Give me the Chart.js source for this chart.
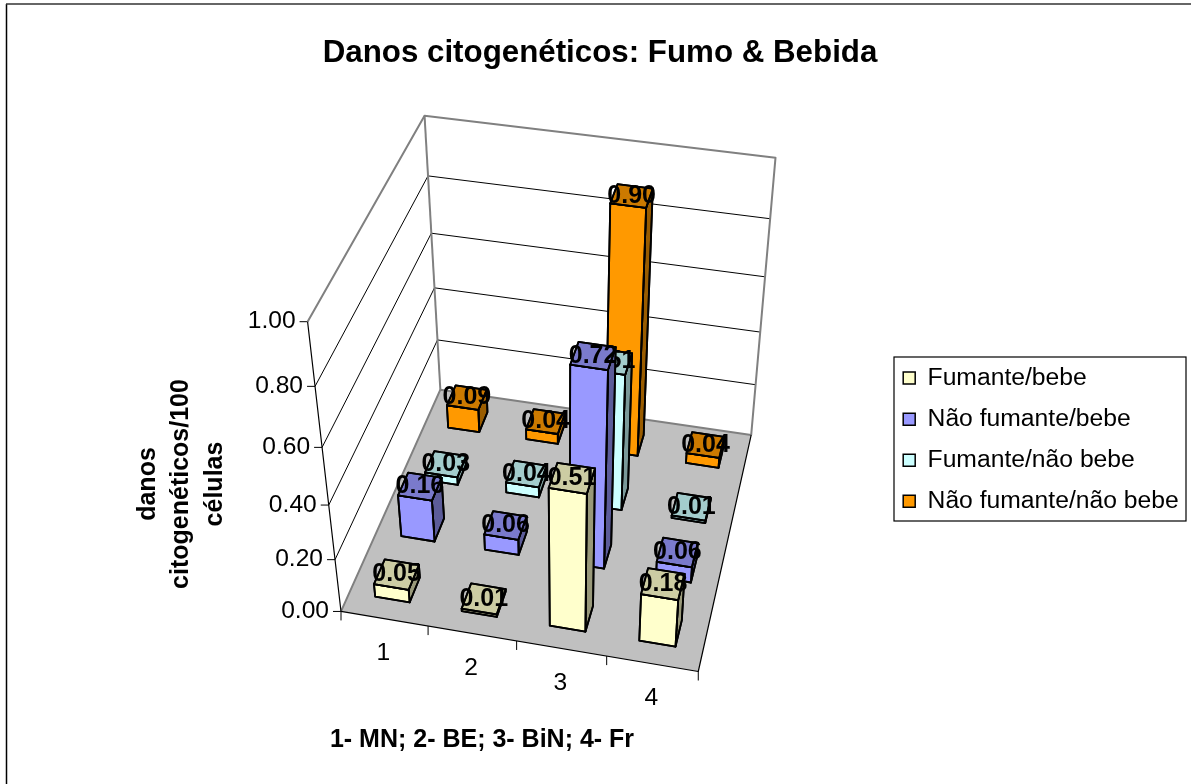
<!DOCTYPE html>
<html>
<head>
<meta charset="utf-8">
<script src="https://cdn.jsdelivr.net/npm/chart.js@4/dist/chart.umd.js"></script>
<style>
  html, body { margin: 0; padding: 0; background: #fff; }
  canvas { display: block; }
</style>
</head>
<body>
<canvas id="chart" width="1191" height="784"></canvas>
<script>
var categories = ["1", "2", "3", "4"];
var seriesNames = ["Fumante/bebe", "Não fumante/bebe", "Fumante/não bebe", "Não fumante/não bebe"];
var fumanteBebe = [0.05, 0.01, 0.51, 0.18];
var naoFumanteBebe = [0.16, 0.06, 0.72, 0.06];
var fumanteNaoBebe = [0.03, 0.04, 0.51, 0.01];
var naoFumanteNaoBebe = [0.09, 0.04, 0.90, 0.04];
var seriesColors = ["#FFFFCC", "#9999FF", "#CCFFFF", "#FF9900"];
var chartTitle = "Danos citogenéticos: Fumo & Bebida";
var xTitle = "1- MN; 2- BE; 3- BiN; 4- Fr";
var yTitle = ["danos", "citogenéticos/100", "células"];

// the 3d box of the plot: [u, v, w] -> where that corner sits on the page
var boxAnchors = [
  [0, 0, 0, 341, 611], [1, 0, 0, 698, 672], [0, 1, 0, 440, 390], [1, 1, 0, 752, 434],
  [0, 0, 1, 308, 321], [0, 1, 1, 424, 115], [1, 1, 1, 776, 158],
  [0, 0, 0.6, 322, 448], [0, 1, 0.6, 432, 234], [1, 1, 0.6, 764, 277]
];
var barShare = 0.4; // bar size against its band, both ways

function solveCamera(pts) {
  var n = 11, A = [], i, j, k;
  for (i = 0; i < n; i++) { A.push(new Array(n + 1).fill(0)); }
  function add(row, rhs) {
    for (var a = 0; a < n; a++) {
      for (var b = 0; b < n; b++) { A[a][b] += row[a] * row[b]; }
      A[a][n] += row[a] * rhs;
    }
  }
  pts.forEach(function (p) {
    add([p[0], p[1], p[2], 1, 0, 0, 0, 0, -p[3] * p[0], -p[3] * p[1], -p[3] * p[2]], p[3]);
    add([0, 0, 0, 0, p[0], p[1], p[2], 1, -p[4] * p[0], -p[4] * p[1], -p[4] * p[2]], p[4]);
  });
  for (i = 0; i < n; i++) {
    var best = i;
    for (j = i + 1; j < n; j++) { if (Math.abs(A[j][i]) > Math.abs(A[best][i])) best = j; }
    var tmp = A[i]; A[i] = A[best]; A[best] = tmp;
    for (j = 0; j < n; j++) {
      if (j === i) continue;
      var f = A[j][i] / A[i][i];
      for (k = i; k <= n; k++) { A[j][k] -= f * A[i][k]; }
    }
  }
  return A.map(function (r, idx) { return r[n] / r[idx]; });
}
var cam = solveCamera(boxAnchors);

function pr(u, v, w) {
  var d = cam[8] * u + cam[9] * v + cam[10] * w + 1;
  return [(cam[0] * u + cam[1] * v + cam[2] * w + cam[3]) / d,
          (cam[4] * u + cam[5] * v + cam[6] * w + cam[7]) / d];
}

function shade(hex, f) {
  var c = parseInt(hex.slice(1), 16);
  return "rgb(" + Math.round((c >> 16) * f) + "," + Math.round(((c >> 8) & 255) * f) + "," + Math.round((c & 255) * f) + ")";
}

function poly(ctx, pts, fill, stroke, lw) {
  ctx.beginPath();
  pts.forEach(function (p, i) { i ? ctx.lineTo(p[0], p[1]) : ctx.moveTo(p[0], p[1]); });
  if (fill) { ctx.closePath(); ctx.fillStyle = fill; ctx.fill(); }
  if (stroke) { ctx.strokeStyle = stroke; ctx.lineWidth = lw; ctx.stroke(); }
}

var box3d = {
  id: "box3d",
  afterLayout: function (chart) {
    // legend sits where it does in the picture
    var l = chart.legend;
    l.left = 886.8; l.right = l.left + l.width;
    l.top = 349.3; l.bottom = l.top + 240;
  },
  beforeDraw: function (chart) {
    var ctx = chart.ctx;
    ctx.save();
    ctx.fillStyle = "#fff";
    ctx.fillRect(0, 0, chart.width, chart.height);
    poly(ctx, [[6.5, 784], [6.5, 4]], null, "#000", 1.5);
    poly(ctx, [[6, 4], [1191, 4]], null, "#333", 1.5);
    ctx.strokeStyle = "#000";
    ctx.lineWidth = 1.2;
    ctx.strokeRect(894, 357, 292, 164);
    ctx.restore();
  },
  beforeDatasetsDraw: function (chart) {
    var ctx = chart.ctx, sx = chart.scales.x, sy = chart.scales.y, sz = chart.scales.z;
    var wOf = function (val) { return sy.getDecimalForPixel(sy.getPixelForValue(val)); };
    var uOf = function (i) { return sx.getDecimalForPixel(sx.getPixelForValue(i)); };
    var vOf = function (k) { return sz.getDecimalForPixel(sz.getPixelForValue(k)); };
    ctx.save();
    ctx.lineJoin = "round";

    // floor
    poly(ctx, [pr(0, 0, 0), pr(1, 0, 0), pr(1, 1, 0), pr(0, 1, 0)], "#C0C0C0");

    // gridlines on both walls, ticks and tick labels on the left
    ctx.font = "24.6px 'Liberation Sans'";
    ctx.fillStyle = "#000";
    ctx.textAlign = "right";
    ctx.textBaseline = "middle";
    sy.ticks.forEach(function (t) {
      var w = wOf(t.value), a = pr(0, 0, w);
      if (w > 0 && w < 1) {
        poly(ctx, [a, pr(0, 1, w), pr(1, 1, w)], null, "#000", 1);
      }
      poly(ctx, [[a[0] - 8, a[1]], a], null, "#000", 1);
      ctx.fillStyle = "#000";
      ctx.fillText(t.label, a[0] - 12, a[1]);
    });

    // wall outline in grey
    poly(ctx, [pr(0, 0, 1), pr(0, 1, 1), pr(1, 1, 1), pr(1, 1, 0)], null, "#808080", 2);
    poly(ctx, [pr(0, 1, 1), pr(0, 1, 0)], null, "#808080", 2);
    poly(ctx, [pr(0, 0, 0), pr(0, 1, 0), pr(1, 1, 0)], null, "#808080", 2);
    // the edges that carry the axes
    poly(ctx, [pr(0, 0, 1), pr(0, 0, 0), pr(1, 0, 0), pr(1, 1, 0)], null, "#000", 1.2);

    // category ticks and labels along the front edge
    ctx.textAlign = "center";
    var step = uOf(1) - uOf(0);
    for (var g = 0; g <= categories.length; g++) {
      var e = pr(g * step, 0, 0);
      poly(ctx, [e, [e[0], e[1] + 9]], null, "#000", 1);
    }
    sx.ticks.forEach(function (t, i) {
      var p = pr(uOf(i), 0, 0);
      ctx.fillStyle = "#000";
      ctx.fillText(t.label, p[0] - 1, p[1] + 34.5);
    });

    // bars, back row first so nearer bars cover the ones behind
    var du = step * barShare / 2, dv = (vOf(1) - vOf(0)) * barShare / 2;
    for (var k = chart.data.datasets.length - 1; k >= 0; k--) {
      var ds = chart.data.datasets[k], v = vOf(k);
      ds.data.forEach(function (val, i) {
        var u = uOf(i), w = wOf(val), col = ds.backgroundColor;
        var u0 = u - du, u1 = u + du, v0 = v - dv, v1 = v + dv;
        poly(ctx, [pr(u1, v0, 0), pr(u1, v1, 0), pr(u1, v1, w), pr(u1, v0, w)], shade(col, 0.6), "#000", 1.8);
        ctx.closePath(); ctx.stroke();
        poly(ctx, [pr(u0, v0, 0), pr(u1, v0, 0), pr(u1, v0, w), pr(u0, v0, w)], col, "#000", 1.8);
        ctx.closePath(); ctx.stroke();
        poly(ctx, [pr(u0, v0, w), pr(u1, v0, w), pr(u1, v1, w), pr(u0, v1, w)], shade(col, 0.8), "#000", 1.8);
        ctx.closePath(); ctx.stroke();
        var c = pr(u, v, w);
        ctx.font = "bold 25px 'Liberation Sans'";
        ctx.fillStyle = "#000";
        ctx.fillText(val.toFixed(2), c[0], c[1]);
      });
    }

    // axis titles
    ctx.font = "bold 25px 'Liberation Sans'";
    ctx.fillStyle = "#000";
    ctx.fillText(xTitle, 482, 740);
    yTitle.forEach(function (line, i) {
      ctx.save();
      ctx.translate(148 + i * 33.5, 484);
      ctx.rotate(-Math.PI / 2);
      ctx.fillText(line, 0, 0);
      ctx.restore();
    });
    ctx.restore();
    return false;
  }
};

new Chart(document.getElementById("chart").getContext("2d"), {
  type: "bar",
  data: {
    labels: categories,
    datasets: [
      { label: seriesNames[0], data: fumanteBebe, backgroundColor: seriesColors[0], borderColor: "#000", borderWidth: 1.5 },
      { label: seriesNames[1], data: naoFumanteBebe, backgroundColor: seriesColors[1], borderColor: "#000", borderWidth: 1.5 },
      { label: seriesNames[2], data: fumanteNaoBebe, backgroundColor: seriesColors[2], borderColor: "#000", borderWidth: 1.5 },
      { label: seriesNames[3], data: naoFumanteNaoBebe, backgroundColor: seriesColors[3], borderColor: "#000", borderWidth: 1.5 }
    ]
  },
  options: {
    responsive: false,
    animation: false,
    layout: { padding: { left: 14, right: 5 } },
    scales: {
      x: { type: "category", display: false, offset: true },
      z: { type: "category", axis: "x", labels: seriesNames, display: false, offset: true },
      y: {
        type: "linear", display: false, min: 0, max: 1,
        ticks: { stepSize: 0.2, callback: function (v) { return v.toFixed(2); } }
      }
    },
    plugins: {
      tooltip: { enabled: false },
      title: {
        display: true,
        text: chartTitle,
        color: "#000",
        font: { family: "'Liberation Sans'", size: 31.3, weight: "bold" },
        padding: { top: 35, bottom: 0 }
      },
      legend: {
        position: "right",
        align: "start",
        labels: {
          color: "#000",
          font: { family: "'Liberation Sans'", size: 24.7 },
          boxWidth: 12,
          boxHeight: 12,
          padding: 16.4
        }
      }
    }
  },
  plugins: [box3d]
});
</script>
</body>
</html>
